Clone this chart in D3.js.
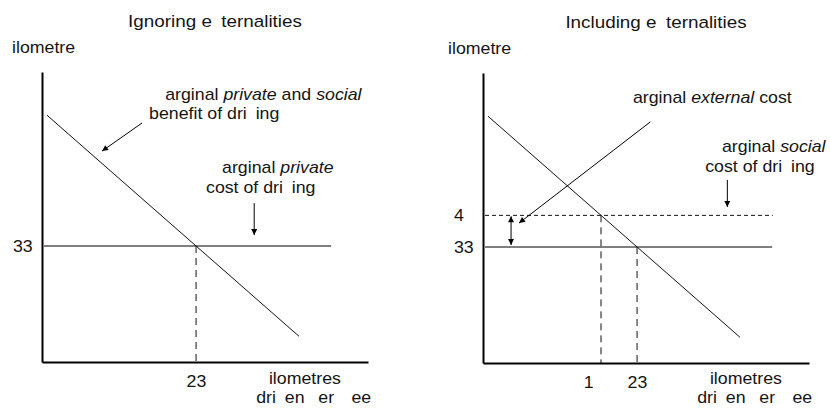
<!DOCTYPE html>
<html>
<head>
<meta charset="utf-8">
<script src="https://cdn.jsdelivr.net/npm/d3@7"></script>
<style>
  body { margin: 0; background: #fff; }
  svg { display: block; }
  text { font-family: "Liberation Sans", Arial, sans-serif; fill: #151515; white-space: pre; }
</style>
</head>
<body>
<svg id="chart" width="830" height="408"></svg>
<script>
// ---- Data (quantity along x, cost per kilometre along y) ----
const panelTitles = ["Ignoring e\u2002ternalities", "Including e\u2002ternalities"];
const yAxisTitle = "ilometre";
const xAxisTitleLines = ["ilometres", "dri\u2002en \u2002er \u2002\u2009ee"];

// marginal private (and social) benefit of driving: two end points
const benefitQ = [0.75, 38.4];
const benefitP = [70.2, 7.3];

// cost levels
const privateCost = 33;
const socialCost = 42;
const costLineEnd = [43.2, 43.3];          // quantity where the cost lines stop

// tick labels on each panel
const yTickLabels = [["33"], ["4", "33"]];
const yTickValues = [[privateCost], [socialCost, privateCost]];
const xTickLabels = [["23"], ["1", "23"]];
const xTickValues = [[23], [15.7, 23]];

// annotation arrows [q0, p0, q1, p1]
const benefitArrow = [14.95, 68.0, 8.97, 60.0];
const privateArrow = [31.7, 45.2, 31.7, 36.1];
const externalArrow = [25.0, 68.6, 5.38, 39.8];
const socialArrow = [36.5, 52.1, 36.5, 44.4];
const gapArrowQ = 4.19;

// ---- Layout ----
const FS = 16, SX = 1.11;
const panelOffset = [[0, 0], [441, 1]];

const x = d3.scaleLinear().domain([0, 48.7]).range([42, 368]);
const y = d3.scaleLinear().domain([0, 82.5]).range([362, 72]);

const svg = d3.select("#chart");
const defs = svg.append("defs");
defs.append("marker")
  .attr("id", "head")
  .attr("viewBox", "0 0 10 10")
  .attr("refX", 10).attr("refY", 5)
  .attr("markerWidth", 7).attr("markerHeight", 6)
  .attr("markerUnits", "userSpaceOnUse")
  .attr("orient", "auto-start-reverse")
  .append("path").attr("d", "M0,0L10,5L0,10Z").attr("fill", "#000");

// text drawn slightly widened, like the rest of the figure's lettering
function label(g, px, py, segs, anchor, size) {
  const t = g.append("text")
    .attr("transform", `translate(${px},${py}) scale(${SX},1)`)
    .attr("text-anchor", anchor || "start")
    .style("font-size", (size || FS) + "px");
  segs.forEach(s => {
    const [str, it] = Array.isArray(s) ? s : [s, false];
    t.append("tspan").text(str).style("font-style", it ? "italic" : null);
  });
  return t;
}

// quantity on the benefit line for a given cost
const qAt = p => benefitQ[0] + (p - benefitP[0]) * (benefitQ[1] - benefitQ[0]) / (benefitP[1] - benefitP[0]);

function arrow(g, a) {
  g.append("line")
    .attr("x1", x(a[0])).attr("y1", y(a[1]))
    .attr("x2", x(a[2])).attr("y2", y(a[3]))
    .attr("stroke", "#000").attr("stroke-width", 1)
    .attr("marker-end", "url(#head)");
}

panelTitles.forEach((title, i) => {
  const g = svg.append("g").attr("transform", `translate(${panelOffset[i][0]},${panelOffset[i][1]})`);

  label(g, 215, 27, [title], "middle", 17);
  label(g, i === 0 ? 12 : 7, 53, [yAxisTitle]);

  // axes
  const ya = g.append("g").attr("transform", `translate(${x(0)},0)`)
    .call(d3.axisLeft(y).tickValues(yTickValues[i]).tickFormat((d, k) => yTickLabels[i][k]).tickSize(0).tickSizeOuter(0));
  ya.select(".domain").attr("stroke", "#000").attr("stroke-width", 2);
  ya.selectAll(".tick text").attr("x", null).attr("dy", null).attr("text-anchor", "start")
    .attr("transform", `translate(-29,5) scale(${SX},1)`)
    .style("font-size", FS + "px").style("font-family", "Liberation Sans, Arial, sans-serif").attr("fill", "#151515");

  const xa = g.append("g").attr("transform", `translate(0,${y(0)})`)
    .call(d3.axisBottom(x).tickValues(xTickValues[i]).tickFormat((d, k) => xTickLabels[i][k]).tickSize(0).tickSizeOuter(0));
  xa.select(".domain").attr("stroke", "#000").attr("stroke-width", 2);
  xa.selectAll(".tick text").attr("y", null).attr("dy", null).attr("text-anchor", "middle")
    .attr("transform", `translate(0,24.5) scale(${SX},1)`)
    .style("font-size", FS + "px").style("font-family", "Liberation Sans, Arial, sans-serif").attr("fill", "#151515");

  // two-line quantity axis title, kept inside the bottom edge
  const base2 = 403 - panelOffset[i][1];
  label(g, x(33.9), base2 - 18.6, [xAxisTitleLines[0]]);
  label(g, x(32.0), base2, [xAxisTitleLines[1]]);

  // marginal private cost
  g.append("line")
    .attr("x1", x(0.3)).attr("x2", x(costLineEnd[0]))
    .attr("y1", y(privateCost)).attr("y2", y(privateCost))
    .attr("stroke", "#555").attr("stroke-width", 1.6);

  // marginal benefit
  g.append("line")
    .attr("x1", x(benefitQ[0])).attr("y1", y(benefitP[0]))
    .attr("x2", x(benefitQ[1])).attr("y2", y(benefitP[1]))
    .attr("stroke", "#111").attr("stroke-width", 1);

  // drop lines to the quantity axis
  const levels = i === 0 ? [privateCost] : [socialCost, privateCost];
  levels.forEach(p => {
    g.append("line")
      .attr("x1", x(qAt(p))).attr("x2", x(qAt(p)))
      .attr("y1", y(p)).attr("y2", y(0))
      .attr("stroke", "#111").attr("stroke-width", 1)
      .attr("stroke-dasharray", "7,5");
  });

  if (i === 0) {
    arrow(g, benefitArrow);
    arrow(g, privateArrow);
    label(g, x(18.4), y(74.5), ["arginal ", ["private", true], " and ", ["social", true]]);
    label(g, x(16.0), y(69.1), ["benefit of dri\u2002ing"]);
    label(g, x(26.9), y(53.8), ["arginal ", ["private", true]]);
    label(g, x(24.5), y(48.1), ["cost of dri\u2002ing"]);
  } else {
    // marginal social cost
    g.append("line")
      .attr("x1", x(0.3)).attr("x2", x(costLineEnd[1]))
      .attr("y1", y(socialCost)).attr("y2", y(socialCost))
      .attr("stroke", "#111").attr("stroke-width", 1)
      .attr("stroke-dasharray", "4,3");
    arrow(g, externalArrow);
    arrow(g, socialArrow);
    // gap between private and social cost
    g.append("line")
      .attr("x1", x(gapArrowQ)).attr("x2", x(gapArrowQ))
      .attr("y1", y(socialCost) + 1).attr("y2", y(privateCost) - 2)
      .attr("stroke", "#000").attr("stroke-width", 1)
      .attr("marker-start", "url(#head)").attr("marker-end", "url(#head)");
    label(g, x(22.4), y(74.0), ["arginal ", ["external", true], " cost"]);
    label(g, x(35.7), y(60.0), ["arginal ", ["social", true]]);
    label(g, x(33.2), y(54.3), ["cost of dri\u2002ing"]);
  }
});
</script>
</body>
</html>
